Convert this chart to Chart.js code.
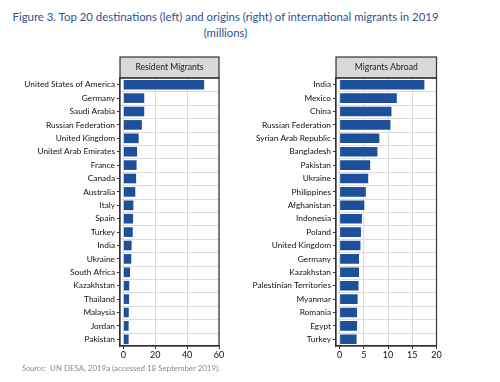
<!DOCTYPE html>
<html>
<head>
<meta charset="utf-8">
<script src="https://cdn.jsdelivr.net/npm/chart.js@4.4.1/dist/chart.umd.min.js"></script>
<style>
  html, body { margin: 0; padding: 0; background: #fff; }
  #wrap { position: relative; width: 500px; height: 382px; background: #fff; overflow: hidden; font-family: Lato, "Open Sans", sans-serif; }
  #title { position: absolute; left: 0; top: 9px; width: 451px; text-align: center; color: #2f5190; font-size: 11.4px; line-height: 16px; white-space: nowrap; }
  #source { position: absolute; left: 22px; top: 363px; color: #8a8a8a; font-size: 7.9px; white-space: nowrap; }
  canvas { position: absolute; top: 0; }
  #cLeft { left: 0; }
  #cRight { left: 230px; }
</style>
</head>
<body>
<div id="wrap">
  <div id="title">Figure 3. Top 20 destinations (left) and origins (right) of international migrants in 2019<br>(millions)</div>
  <canvas id="cLeft" width="230" height="382"></canvas>
  <canvas id="cRight" width="270" height="382"></canvas>
  <div id="source"><i>Source:</i>&nbsp; UN DESA, 2019a (accessed 18 September 2019).</div>
</div>
<script>
const destinations = ["United States of America","Germany","Saudi Arabia","Russian Federation","United Kingdom","United Arab Emirates","France","Canada","Australia","Italy","Spain","Turkey","India","Ukraine","South Africa","Kazakhstan","Thailand","Malaysia","Jordan","Pakistan"];
const residentMigrants = [50.7,13.1,13.1,11.6,9.6,8.6,8.3,8.0,7.5,6.3,6.1,5.9,5.2,5.0,4.2,3.7,3.6,3.4,3.3,3.3];
const origins = ["India","Mexico","China","Russian Federation","Syrian Arab Republic","Bangladesh","Pakistan","Ukraine","Philippines","Afghanistan","Indonesia","Poland","United Kingdom","Germany","Kazakhstan","Palestinian Territories","Myanmar","Romania","Egypt","Turkey"];
const migrantsAbroad = [17.5,11.8,10.7,10.5,8.2,7.8,6.3,5.9,5.4,5.1,4.6,4.4,4.3,4.0,4.0,3.9,3.7,3.6,3.6,3.5];
const leftTicks = [0,20,40,60];
const rightTicks = [0,5,10,15,20];

const BAR = '#1d4f9b';
const FONT = 'Lato, "Open Sans", sans-serif';

const panelPlugin = {
  id: 'panel',
  beforeDatasetsDraw(chart, args, opts) {
    const {ctx, chartArea: a} = chart;
    const y = chart.scales.y;
    ctx.save();
    ctx.strokeStyle = '#dcdcdc';
    ctx.lineWidth = 1;
    for (let i = 0; i < y.ticks.length - 1; i++) {
      const yy = Math.round((y.getPixelForTick(i) + y.getPixelForTick(i + 1)) / 2) + 0.5;
      ctx.beginPath(); ctx.moveTo(a.left, yy); ctx.lineTo(a.right, yy); ctx.stroke();
    }
    ctx.restore();
  },
  afterDraw(chart, args, opts) {
    const {ctx, chartArea: a} = chart;
    ctx.save();
    const h = 21;
    ctx.fillStyle = '#d9d9d9';
    ctx.fillRect(a.left, a.top - h, a.right - a.left, h);
    ctx.strokeStyle = '#333';
    ctx.lineWidth = 1.2;
    ctx.strokeRect(a.left, a.top - h, a.right - a.left, h);
    ctx.strokeRect(a.left, a.top, a.right - a.left, a.bottom - a.top);
    ctx.fillStyle = '#1a1a1a';
    ctx.font = '8.6px ' + FONT;
    ctx.textAlign = 'center';
    ctx.textBaseline = 'middle';
    ctx.fillText(opts.label, (a.left + a.right) / 2, a.top - h / 2);
    ctx.restore();
  }
};

function makeChart(id, labels, values, ticks, xmin, xmax, pad, stripLabel) {
  return new Chart(document.getElementById(id), {
    type: 'bar',
    data: {
      labels: labels,
      datasets: [{
        data: values,
        backgroundColor: BAR,
        borderWidth: 0,
        barPercentage: 0.72,
        categoryPercentage: 1.0
      }]
    },
    plugins: [panelPlugin],
    options: {
      indexAxis: 'y',
      responsive: false,
      animation: false,
      events: [],
      layout: { padding: pad },
      plugins: {
        legend: { display: false },
        tooltip: { enabled: false },
        panel: { label: stripLabel }
      },
      scales: {
        x: {
          type: 'linear',
          min: xmin,
          max: xmax,
          afterFit(s) { s.height = 20; },
          afterBuildTicks(s) { s.ticks = ticks.map(v => ({ value: v })); },
          ticks: { includeBounds: false, color: '#111', font: { family: FONT, size: 9 }, padding: 1 },
          grid: { color: '#dcdcdc', tickColor: '#333', tickLength: 3, lineWidth: 1 },
          border: { display: true, color: '#333', width: 1.2 }
        },
        y: {
          type: 'category',
          offset: true,
          afterFit(s) { s.width = pad.yw; },
          ticks: { color: '#111', font: { family: FONT, size: 8.3 }, padding: 2, autoSkip: false },
          grid: { offset: false, drawOnChartArea: false, tickColor: '#333', tickLength: 3 },
          border: { display: true, color: '#333', width: 1.2 }
        }
      }
    }
  });
}

makeChart('cLeft', destinations, residentMigrants, leftTicks, -2.1, 60,
  { left: 0, right: 11, top: 78, bottom: 16, yw: 120 }, 'Resident Migrants');
makeChart('cRight', origins, migrantsAbroad, rightTicks, -0.75, 20,
  { left: 0, right: 63.5, top: 78, bottom: 16, yw: 106 }, 'Migrants Abroad');
</script>
</body>
</html>
